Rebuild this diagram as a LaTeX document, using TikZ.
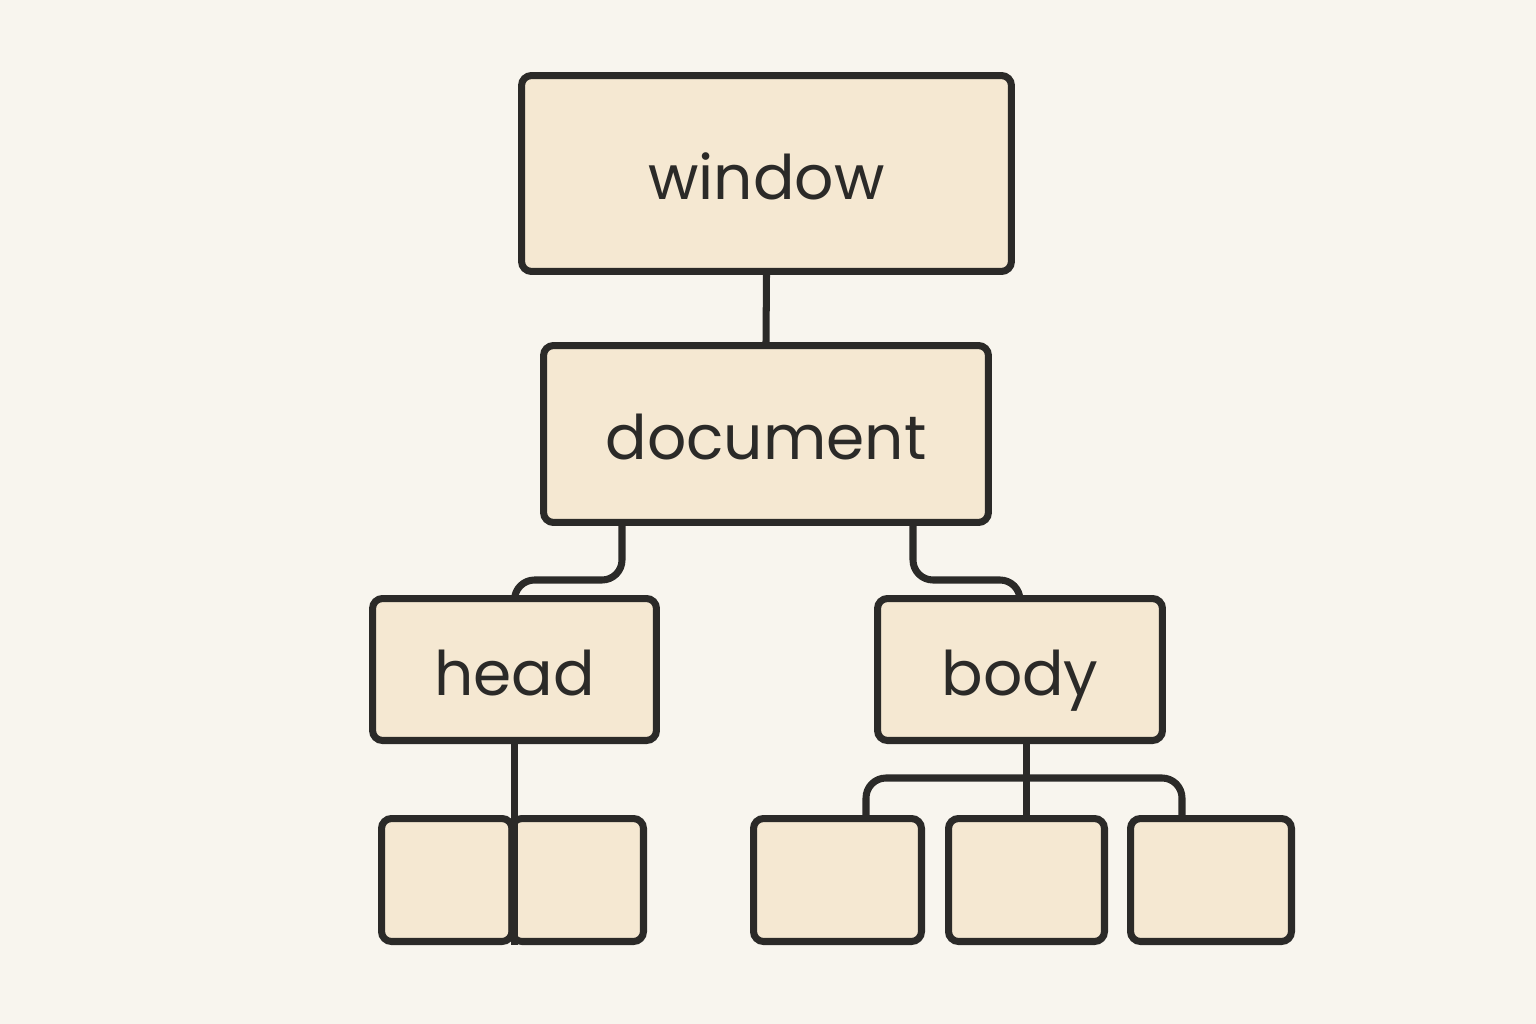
\documentclass[tikz,border=0pt]{standalone}
\usepackage{fontspec}
\setmainfont{Poppins}
\definecolor{bgc}{HTML}{F8F5EE}
\definecolor{boxfill}{HTML}{F5E8D2}
\definecolor{ink}{HTML}{2B2A28}
\begin{document}
\begin{tikzpicture}[x=0.02cm,y=-0.02cm,
  box/.style={draw=ink,fill=boxfill,line width=4pt,rounded corners=0.2cm,inner sep=0pt,anchor=center,
    font=\fontsize{35}{40}\selectfont,text=ink,text height=1.04cm,text depth=0pt},
  link/.style={draw=ink,line width=4pt,rounded corners=0.4cm}]
\fill[bgc] (0,0) rectangle (1536,1024);
\useasboundingbox (0,0) rectangle (1536,1024);
\node[box,minimum width=9.8cm,minimum height=3.92cm] (window) at (766.5,173.5) {window};
\node[box,minimum width=8.9cm,minimum height=3.54cm] (document) at (766,434) {document};
\node[box,minimum width=5.68cm,minimum height=2.84cm] (head) at (514.5,669.5) {head};
\node[box,minimum width=5.7cm,minimum height=2.84cm] (body) at (1020,669.5) {body};
\node[box,minimum width=2.61cm,minimum height=2.46cm] (hc1) at (446.75,880) {};
\node[box,minimum width=2.63cm,minimum height=2.46cm] (hc2) at (577.75,880) {};
\node[box,minimum width=3.36cm,minimum height=2.46cm] (c1) at (837.5,880) {};
\node[box,minimum width=3.12cm,minimum height=2.46cm] (c2) at (1026.5,880) {};
\node[box,minimum width=3.22cm,minimum height=2.46cm] (c3) at (1211,880) {};
\coordinate (dh) at (622,580);
\coordinate (db) at (913,580);
\coordinate (bl) at (866,778);
\coordinate (br) at (1182,778);
\draw[link] (window.south) -- (document.north);
\draw[link] (document.south -| dh) -- (dh) -- (dh -| head.north) -- (head.north);
\draw[link] (document.south -| db) -- (db) -- (db -| body.north) -- (body.north);
\draw[link] (body.south -| c2.north) -- (c2.north);
\draw[link] (c1.north -| bl) -- (bl) -- (br) -- (c3.north -| br);
\draw[link] (head.south) -- (head.south |- hc1.south);
\end{tikzpicture}
\end{document}
